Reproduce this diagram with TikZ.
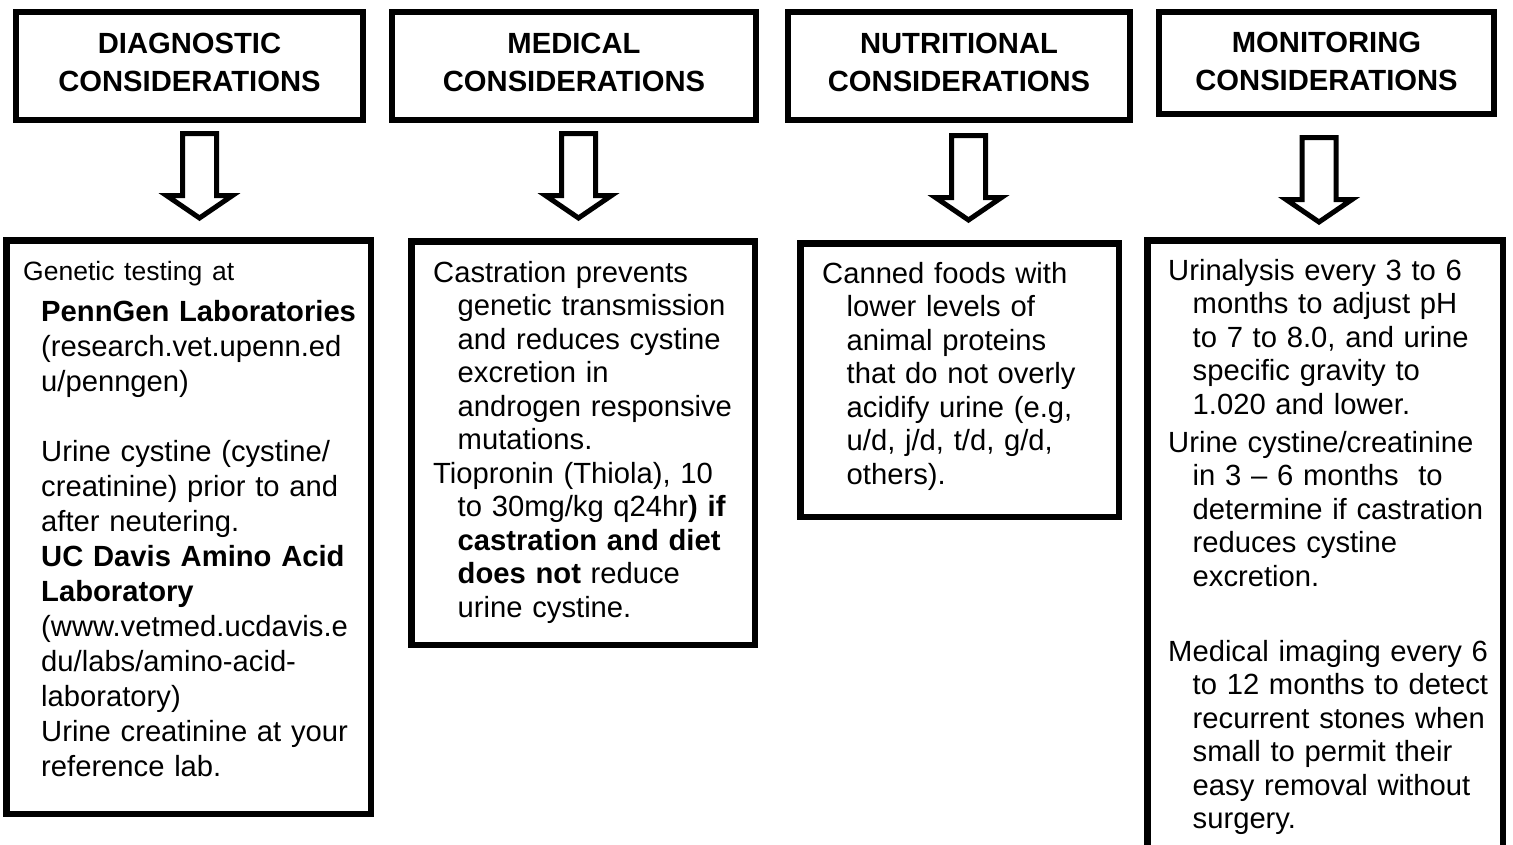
\documentclass[tikz,border=0pt]{standalone}
\usepackage{fontspec}
\setmainfont{Liberation Sans}
\usetikzlibrary{positioning}
\newlength{\bodyindent}
\setlength{\bodyindent}{24.5pt}

\begin{document}
\begin{tikzpicture}[x=1pt,y=-1pt]
\tikzset{
  headbox/.style={draw=black,line width=6pt,inner sep=0pt,minimum height=108pt,
    text width=330pt,align=center,text depth=44.6pt,
    font={\fontsize{29.2}{37.5}\selectfont\bfseries}},
  bodybox/.style={draw=black,line width=6.5pt,inner sep=0pt},
  bodytext/.style={anchor=base west,inner sep=0pt,text width=340pt,align=left,
    font={\fontsize{29.2}{33.5}\selectfont}},
  blockarrow/.style={draw=black,line width=5pt,fill=white,line join=miter}
}
\useasboundingbox (0,0) rectangle (1513,844);
\fill[white] (0,0) rectangle (1513,844);
\clip (0,0) rectangle (1513,844);
% headings
\node[headbox,minimum width=347pt] (h_diag) at (189.5,66) {DIAGNOSTIC\\CONSIDERATIONS};
\node[headbox,minimum width=364pt] (h_med) at (574,66) {MEDICAL\\CONSIDERATIONS};
\node[headbox,minimum width=342pt] (h_nutr) at (959,66) {NUTRITIONAL\\CONSIDERATIONS};
\node[headbox,minimum width=335pt,minimum height=102pt,text depth=40.6pt] (h_mon) at (1326.5,63) {MONITORING\\CONSIDERATIONS};
% frames below
\node[bodybox,minimum width=364.5pt,minimum height=573.5pt] (b_diag) at (188.5,527) {};
\node[bodybox,minimum width=343.5pt,minimum height=403.5pt] (b_med) at (583,443) {};
\node[bodybox,minimum width=318.5pt,minimum height=273.5pt] (b_nutr) at (959.5,380) {};
\node[bodybox,minimum width=355.5pt,minimum height=656.5pt] (b_mon) at (1325,568.5) {};
% hollow arrows
\coordinate (a_diag) at (199.5,133.5);
\coordinate (a_med) at (578.5,133.5);
\coordinate (a_nutr) at (968.5,135.5);
\coordinate (a_mon) at (1319,137.5);
\foreach \a in {a_diag,a_med,a_nutr,a_mon}
  \draw[blockarrow] (\a) ++(-17,0) -- ++(0,62) -- ++(-16,0) -- ++(33,22.5)
    -- ++(33,-22.5) -- ++(-16,0) -- ++(0,-62) -- cycle;
% texts
\node[bodytext,font={\fontsize{29.2}{35}\selectfont}] (t_diag) at (41,280) {%
{\fontsize{26.5}{35}\selectfont\hspace*{-18pt}Genetic testing at}\\[6pt]
\textbf{PennGen Laboratories}\\
(research.vet.upenn.ed\\
u/penngen)\\[35pt]
Urine cystine (cystine/\\
creatinine) prior to and\\
after neutering.\\
\textbf{UC Davis Amino Acid}\\
\textbf{Laboratory}\\
(www.vetmed.ucdavis.e\\
du/labs/amino-acid-\\
laboratory)\\
Urine creatinine at your\\
reference lab.};
\node[bodytext] (t_med) at (433,282) {Castration prevents\\
\hspace*{\bodyindent}genetic transmission\\
\hspace*{\bodyindent}and reduces cystine\\
\hspace*{\bodyindent}excretion in\\
\hspace*{\bodyindent}androgen responsive\\
\hspace*{\bodyindent}mutations.\\
Tiopronin (Thiola), 10\\
\hspace*{\bodyindent}to 30mg/kg q24hr\textbf{) if}\\
\hspace*{\bodyindent}\textbf{castration and diet}\\
\hspace*{\bodyindent}\textbf{does not} reduce\\
\hspace*{\bodyindent}urine cystine.};
\node[bodytext] (t_nutr) at (822,283) {Canned foods with\\
\hspace*{\bodyindent}lower levels of\\
\hspace*{\bodyindent}animal proteins\\
\hspace*{\bodyindent}that do not overly\\
\hspace*{\bodyindent}acidify urine (e.g,\\
\hspace*{\bodyindent}u/d, j/d, t/d, g/d,\\
\hspace*{\bodyindent}others).};
\node[bodytext] (t_mon) at (1168,280) {Urinalysis every 3 to 6\\
\hspace*{\bodyindent}months to adjust pH\\
\hspace*{\bodyindent}to 7 to 8.0, and urine\\
\hspace*{\bodyindent}specific gravity to\\
\hspace*{\bodyindent}1.020 and lower.\\[4.5pt]
Urine cystine/creatinine\\
\hspace*{\bodyindent}in 3 – 6 months\ \ to\\
\hspace*{\bodyindent}determine if castration\\
\hspace*{\bodyindent}reduces cystine\\
\hspace*{\bodyindent}excretion.\\[41.5pt]
Medical imaging every 6\\
\hspace*{\bodyindent}to 12 months to detect\\
\hspace*{\bodyindent}recurrent stones when\\
\hspace*{\bodyindent}small to permit their\\
\hspace*{\bodyindent}easy removal without\\
\hspace*{\bodyindent}surgery.};
\end{tikzpicture}
\end{document}
